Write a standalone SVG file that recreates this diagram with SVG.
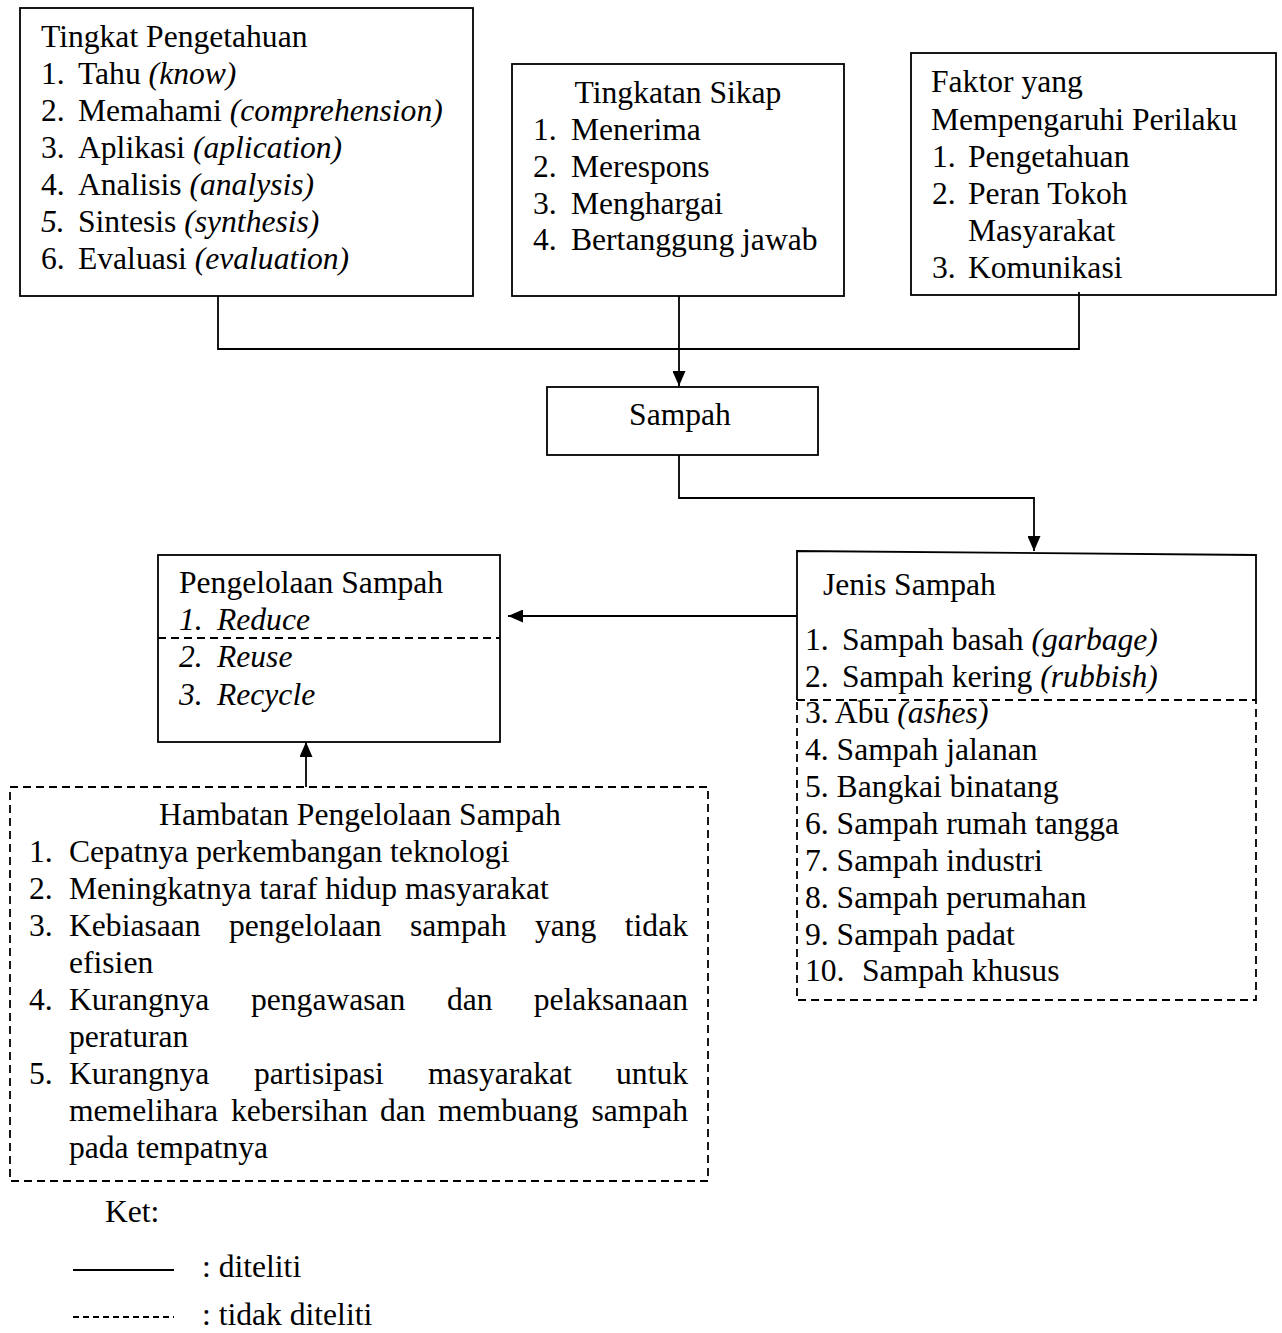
<svg xmlns="http://www.w3.org/2000/svg" width="1282" height="1333" viewBox="0 0 1282 1333">
<defs>
<style>
text{font-family:"Liberation Serif","Times New Roman",serif;font-size:31.6px;fill:#000}
.i{font-style:italic}
.box{fill:none;stroke:#000;stroke-width:1.8}
.dash{fill:none;stroke:#000;stroke-width:1.8;stroke-dasharray:8 5}
.ln{fill:none;stroke:#000;stroke-width:1.8}
</style>
<marker id="arr" viewBox="0 0 15 13" refX="15" refY="6.5" markerWidth="15" markerHeight="13" markerUnits="userSpaceOnUse" orient="auto">
<path d="M0,0 L15,6.5 L0,13 Z" fill="#000"/>
</marker>
</defs>
<rect width="1282" height="1333" fill="#fff"/>

<g id="connectors">
<path class="ln" d="M218,296 V349 H1079 V292"/>
<path class="ln" d="M679,296 V386" marker-end="url(#arr)"/>
<path class="ln" d="M679,455 V498 H1034 V551" marker-end="url(#arr)"/>
<path class="ln" d="M797,616 H508" marker-end="url(#arr)"/>
<path class="ln" d="M306,787 V742" marker-end="url(#arr)"/>
</g>

<g id="tingkat-pengetahuan">
<rect class="box" x="20" y="8" width="453" height="288"/>
<text x="41" y="47">Tingkat Pengetahuan</text>
<text x="41" y="84">1.</text><text x="78" y="84">Tahu <tspan class="i">(know)</tspan></text>
<text x="41" y="121">2.</text><text x="78" y="121">Memahami <tspan class="i">(comprehension)</tspan></text>
<text x="41" y="158">3.</text><text x="78" y="158">Aplikasi <tspan class="i">(aplication)</tspan></text>
<text x="41" y="195">4.</text><text x="78" y="195">Analisis <tspan class="i">(analysis)</tspan></text>
<text x="41" y="232" class="i">5.</text><text x="78" y="232">Sintesis <tspan class="i">(synthesis)</tspan></text>
<text x="41" y="269">6.</text><text x="78" y="269">Evaluasi <tspan class="i">(evaluation)</tspan></text>
</g>

<g id="tingkatan-sikap">
<rect class="box" x="512" y="64" width="332" height="232"/>
<text x="678" y="103" text-anchor="middle">Tingkatan Sikap</text>
<text x="533" y="140">1.</text><text x="571" y="140">Menerima</text>
<text x="533" y="177">2.</text><text x="571" y="177">Merespons</text>
<text x="533" y="214">3.</text><text x="571" y="214">Menghargai</text>
<text x="533" y="250">4.</text><text x="571" y="250">Bertanggung jawab</text>
</g>

<g id="faktor">
<rect class="box" x="911" y="53" width="365" height="242"/>
<text x="931" y="92">Faktor yang</text>
<text x="931" y="130">Mempengaruhi Perilaku</text>
<text x="932" y="167">1.</text><text x="968" y="167">Pengetahuan</text>
<text x="932" y="204">2.</text><text x="968" y="204">Peran Tokoh</text>
<text x="968" y="241">Masyarakat</text>
<text x="932" y="278">3.</text><text x="968" y="278">Komunikasi</text>
</g>

<g id="sampah">
<rect class="box" x="547" y="387" width="271" height="68"/>
<text x="680" y="425" text-anchor="middle">Sampah</text>
</g>

<g id="jenis-sampah">
<path class="box" d="M797,700 V551 L1256,555 V700"/>
<path class="dash" d="M797,700 H1256 V1000 H797 Z"/>
<text x="823" y="595">Jenis Sampah</text>
<text x="805" y="650">1.</text><text x="842" y="650">Sampah basah <tspan class="i">(garbage)</tspan></text>
<text x="805" y="687">2.</text><text x="842" y="687">Sampah kering <tspan class="i">(rubbish)</tspan></text>
<text x="805" y="723">3. Abu <tspan class="i">(ashes)</tspan></text>
<text x="805" y="760">4. Sampah jalanan</text>
<text x="805" y="797">5. Bangkai binatang</text>
<text x="805" y="834">6. Sampah rumah tangga</text>
<text x="805" y="871">7. Sampah industri</text>
<text x="805" y="908">8. Sampah perumahan</text>
<text x="805" y="945">9. Sampah padat</text>
<text x="805" y="981">10.</text><text x="862" y="981">Sampah khusus</text>
</g>

<g id="pengelolaan-sampah">
<rect class="box" x="158" y="555" width="342" height="187"/>
<line class="dash" x1="158" y1="638" x2="500" y2="638"/>
<text x="179" y="593">Pengelolaan Sampah</text>
<text x="179" y="630" class="i">1.</text><text x="217" y="630" class="i">Reduce</text>
<text x="179" y="667" class="i">2.</text><text x="217" y="667" class="i">Reuse</text>
<text x="179" y="705" class="i">3.</text><text x="217" y="705" class="i">Recycle</text>
</g>

<g id="hambatan">
<rect class="dash" x="10" y="787" width="698" height="394"/>
<text x="360" y="825" text-anchor="middle">Hambatan Pengelolaan Sampah</text>
<text x="29" y="862">1.</text><text x="69" y="862">Cepatnya perkembangan teknologi</text>
<text x="29" y="899">2.</text><text x="69" y="899">Meningkatnya taraf hidup masyarakat</text>
<text x="29" y="936">3.</text>
<text y="936"><tspan x="69">Kebiasaan</tspan><tspan x="229">pengelolaan</tspan><tspan x="410">sampah</tspan><tspan x="535">yang</tspan></text>
<text x="688" y="936" text-anchor="end">tidak</text>
<text x="69" y="973">efisien</text>
<text x="29" y="1010">4.</text>
<text y="1010"><tspan x="69">Kurangnya</tspan><tspan x="251">pengawasan</tspan><tspan x="447">dan</tspan></text>
<text x="688" y="1010" text-anchor="end">pelaksanaan</text>
<text x="69" y="1047">peraturan</text>
<text x="29" y="1084">5.</text>
<text y="1084"><tspan x="69">Kurangnya</tspan><tspan x="254">partisipasi</tspan><tspan x="428">masyarakat</tspan></text>
<text x="688" y="1084" text-anchor="end">untuk</text>
<text y="1121"><tspan x="69">memelihara</tspan><tspan x="231">kebersihan</tspan><tspan x="380">dan</tspan><tspan x="438">membuang</tspan></text>
<text x="688" y="1121" text-anchor="end">sampah</text>
<text x="69" y="1158">pada tempatnya</text>
</g>

<g id="legend">
<text x="105" y="1222">Ket:</text>
<line class="ln" x1="73" y1="1270" x2="174" y2="1270"/>
<text x="202" y="1277">: diteliti</text>
<line x1="73" y1="1317" x2="174" y2="1317" stroke="#000" stroke-width="1.8" stroke-dasharray="6 4"/>
<text x="202" y="1325">: tidak diteliti</text>
</g>
</svg>
